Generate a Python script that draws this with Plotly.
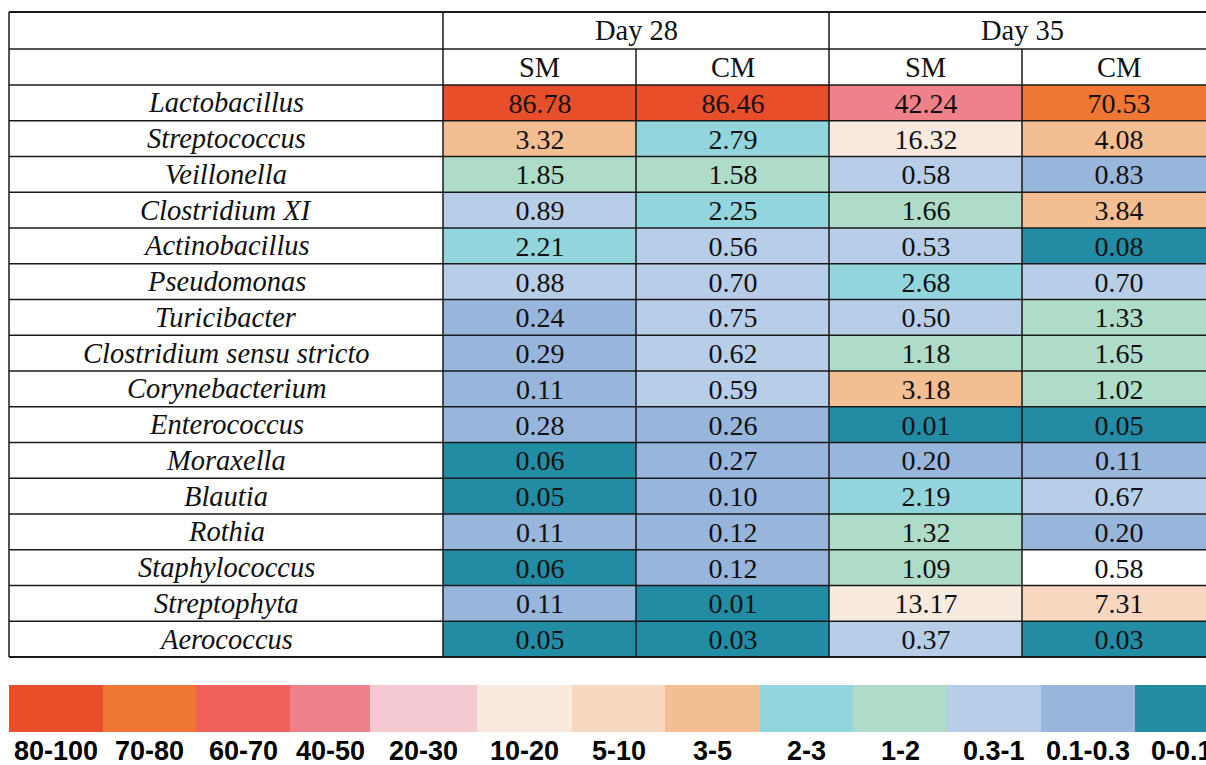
import plotly.graph_objects as go

# ---------------- data ----------------
genera = ["Lactobacillus", "Streptococcus", "Veillonella", "Clostridium XI", "Actinobacillus",
          "Pseudomonas", "Turicibacter", "Clostridium sensu stricto", "Corynebacterium",
          "Enterococcus", "Moraxella", "Blautia", "Rothia", "Staphylococcus",
          "Streptophyta", "Aerococcus"]
days = ["Day 28", "Day 35"]
groups = ["SM", "CM"]

d28_sm = [86.78, 3.32, 1.85, 0.89, 2.21, 0.88, 0.24, 0.29, 0.11, 0.28, 0.06, 0.05, 0.11, 0.06, 0.11, 0.05]
d28_cm = [86.46, 2.79, 1.58, 2.25, 0.56, 0.70, 0.75, 0.62, 0.59, 0.26, 0.27, 0.10, 0.12, 0.12, 0.01, 0.03]
d35_sm = [42.24, 16.32, 0.58, 1.66, 0.53, 2.68, 0.50, 1.18, 3.18, 0.01, 0.20, 2.19, 1.32, 1.09, 13.17, 0.37]
d35_cm = [70.53, 4.08, 0.83, 3.84, 0.08, 0.70, 1.33, 1.65, 1.02, 0.05, 0.11, 0.67, 0.20, 0.58, 7.31, 0.03]

# colour class of every cell as shown in the picture (index into legend_labels; 13 = uncoloured)
cls_d28_sm = [0, 7, 9, 10, 8, 10, 11, 11, 11, 11, 12, 12, 11, 12, 11, 12]
cls_d28_cm = [0, 8, 9, 8, 10, 10, 10, 10, 10, 11, 11, 11, 11, 11, 12, 12]
cls_d35_sm = [3, 5, 10, 9, 10, 8, 10, 9, 7, 12, 11, 8, 9, 9, 5, 10]
cls_d35_cm = [1, 7, 11, 7, 12, 10, 9, 9, 9, 12, 11, 10, 11, 13, 6, 12]

legend_labels = ["80-100", "70-80", "60-70", "40-50", "20-30", "10-20", "5-10",
                 "3-5", "2-3", "1-2", "0.3-1", "0.1-0.3", "0-0.1"]
class_colors = ["#E94E2B", "#F07633", "#EF625B", "#EE8189", "#F6CAD2", "#F8EADF", "#F7D7BF",
                "#F4BE93", "#93D5DC", "#AEDCC8", "#B8CDE8", "#98B5DB", "#238CA5", "#FFFFFF"]

# ---------------- layout geometry (pixels) ----------------
W, H = 1206, 765
TABLE_LEFT, LABEL_RIGHT, COL_W = 9, 443, 193
TOP, HEAD1_B, HEAD2_B, ROW_H = 12, 49, 85, 35.75
LEG_TOP, LEG_BOT, LEG_LABEL_Y = 685, 732, 751
leg_edges = [9, 103, 196, 290, 370, 477, 572, 665, 760, 853, 947, 1041, 1135, 1229]

SERIF = "Liberation Serif"
SANS = "Liberation Sans Narrow, Liberation Sans, Arial, sans-serif"

series = [d28_sm, d28_cm, d35_sm, d35_cm]
classes = [cls_d28_sm, cls_d28_cm, cls_d35_sm, cls_d35_cm]
n_rows, n_cols = len(genera), len(series)
TABLE_RIGHT = LABEL_RIGHT + COL_W * n_cols
BOTTOM = HEAD2_B + ROW_H * n_rows

ncls = len(class_colors)
cscale = []
for i, c in enumerate(class_colors):
    cscale.append([i / ncls, c])
    cscale.append([(i + 1) / ncls, c])

col_centers = [LABEL_RIGHT + COL_W * (i + 0.5) for i in range(n_cols)]
row_centers = [HEAD2_B + ROW_H * (j + 0.5) for j in range(n_rows)]

z = [[classes[c][r] + 0.5 for c in range(n_cols)] for r in range(n_rows)]
txt = [[f"{series[c][r]:.2f}" for c in range(n_cols)] for r in range(n_rows)]

fig = go.Figure()
fig.add_trace(go.Heatmap(
    x=col_centers, y=row_centers, z=z, text=txt, texttemplate="%{text}",
    textfont=dict(family=SERIF, size=28, color="#111111"),
    colorscale=cscale, zmin=0, zmax=ncls, showscale=False, hoverinfo="skip"))

# legend strip
fig.add_trace(go.Heatmap(
    x=leg_edges, y=[LEG_TOP, LEG_BOT], z=[[i + 0.5 for i in range(len(legend_labels))]],
    colorscale=cscale, zmin=0, zmax=ncls, showscale=False, hoverinfo="skip"))

annotations = []
for g, yc in zip(genera, row_centers):
    annotations.append(dict(x=(TABLE_LEFT + LABEL_RIGHT) / 2, y=yc, text=f"<i>{g}</i>",
                            showarrow=False, font=dict(family=SERIF, size=28.5, color="#111111"),
                            xanchor="center", yanchor="middle"))
for k, d in enumerate(days):
    annotations.append(dict(x=LABEL_RIGHT + COL_W * (2 * k + 1), y=(TOP + HEAD1_B) / 2, text=d,
                            showarrow=False, font=dict(family=SERIF, size=28.5, color="#111111"),
                            xanchor="center", yanchor="middle"))
    for m, gname in enumerate(groups):
        annotations.append(dict(x=col_centers[2 * k + m], y=(HEAD1_B + HEAD2_B) / 2, text=gname,
                                showarrow=False, font=dict(family=SERIF, size=28.5, color="#111111"),
                                xanchor="center", yanchor="middle"))
for i, lab in enumerate(legend_labels):
    annotations.append(dict(x=(leg_edges[i] + leg_edges[i + 1]) / 2, y=LEG_LABEL_Y, text=f"<b>{lab}</b>",
                            showarrow=False, font=dict(family=SANS, size=27, color="#000000"),
                            xanchor="center", yanchor="middle"))

shapes = []
line = dict(color="#1a1a1a", width=1.5)
hl = [TOP, HEAD1_B, HEAD2_B] + [HEAD2_B + ROW_H * (j + 1) for j in range(n_rows)]
for i, yv in enumerate(hl):
    w = 2.2 if (i == 0 or i == len(hl) - 1) else 1.5
    shapes.append(dict(type="line", x0=TABLE_LEFT, x1=TABLE_RIGHT, y0=yv, y1=yv,
                       xref="x", yref="y", line=dict(color="#1a1a1a", width=w)))
shapes.append(dict(type="line", x0=TABLE_LEFT, x1=TABLE_LEFT, y0=TOP, y1=BOTTOM, xref="x", yref="y", line=line))
shapes.append(dict(type="line", x0=LABEL_RIGHT, x1=LABEL_RIGHT, y0=TOP, y1=BOTTOM, xref="x", yref="y", line=line))
for c in range(1, n_cols + 1):
    y0 = TOP if c % 2 == 0 else HEAD1_B
    xv = LABEL_RIGHT + COL_W * c
    shapes.append(dict(type="line", x0=xv, x1=xv, y0=y0, y1=BOTTOM, xref="x", yref="y", line=line))

fig.update_layout(
    width=W, height=H, margin=dict(l=0, r=0, t=0, b=0),
    paper_bgcolor="white", plot_bgcolor="white",
    xaxis=dict(range=[0, W], visible=False, fixedrange=True),
    yaxis=dict(range=[H, 0], visible=False, fixedrange=True),
    annotations=annotations, shapes=shapes, showlegend=False)

fig.write_html("out.html", config={"displayModeBar": False},
               post_script="document.body.style.margin='0';document.body.style.padding='0';"
                           "document.body.style.overflow='hidden';")
